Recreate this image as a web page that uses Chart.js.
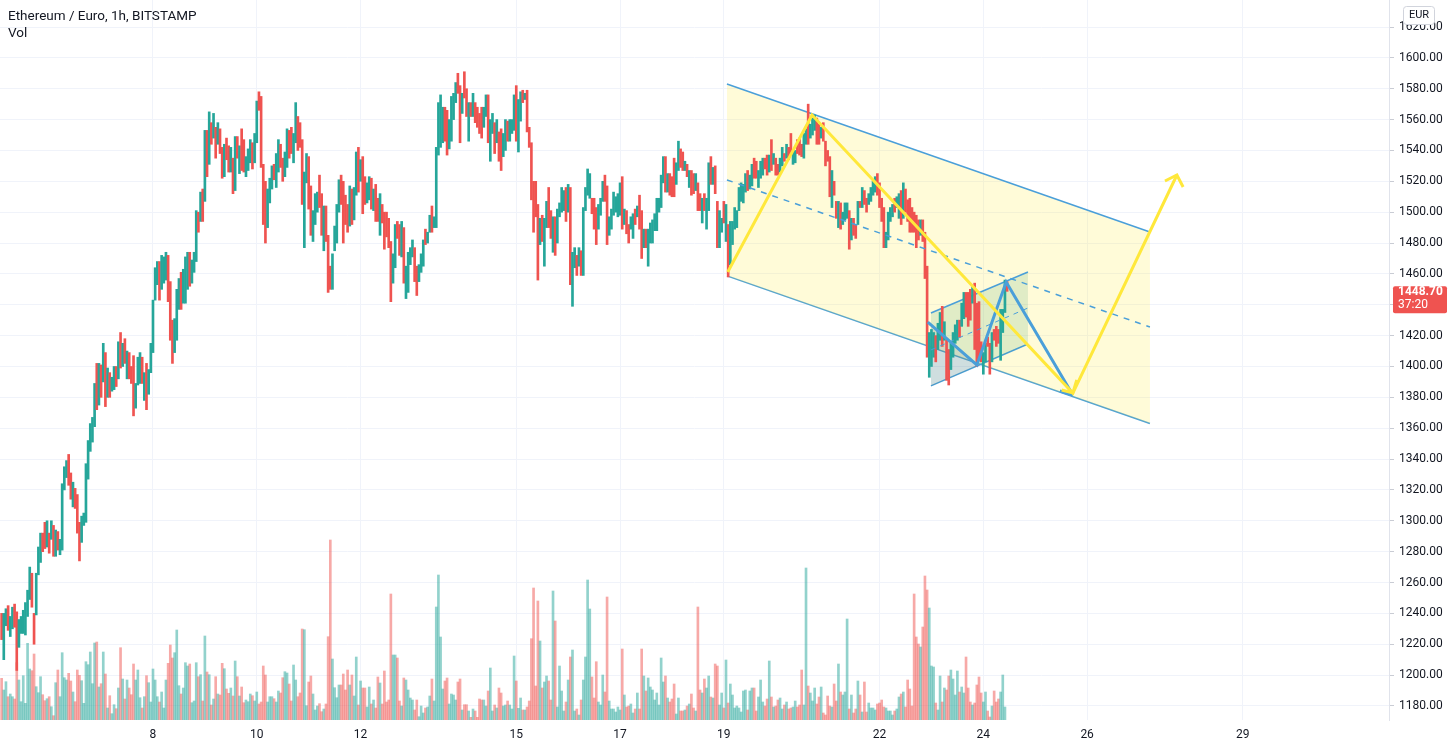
<!DOCTYPE html>
<html>
<head>
<meta charset="utf-8">
<script src="https://cdn.jsdelivr.net/npm/chart.js@4.4.0/dist/chart.umd.min.js"></script>
<style>
  html, body { margin: 0; padding: 0; background: #fff; }
  #wrap { position: relative; width: 1451px; height: 748px; }
</style>
</head>
<body>
<div id="wrap"><canvas id="ethChart" width="1451" height="748"></canvas></div>
<script>
// ETH/EUR hourly candles, first bar at day 5 02:00, one bar per hour
const firstBarDay = 5;
const firstBarHour = 2;

const opens = [
  1240,1210,1232,1245,1225,1230,1246,1241,1218,1227,
  1227,1226,1238,1249,1266,1240,1239,1265,1273,1292,
  1299,1283,1292,1288,1297,1277,1293,1278,1281,1320,
  1328,1343,1331,1309,1321,1317,1299,1286,1297,1299,
  1327,1345,1351,1361,1402,1375,1401,1390,1409,1380,
  1396,1384,1385,1400,1392,1422,1400,1418,1392,1409,
  1400,1407,1373,1388,1389,1406,1378,1402,1382,1396,
  1409,1443,1453,1468,1450,1454,1456,1472,1455,1430,
  1409,1417,1437,1461,1441,1441,1450,1474,1454,1461,
  1468,1500,1494,1515,1507,1553,1531,1558,1548,1555,
  1544,1554,1542,1523,1548,1543,1526,1535,1514,1549,
  1525,1554,1547,1523,1527,1532,1545,1532,1545,1578,
  1575,1531,1520,1490,1506,1515,1531,1516,1526,1544,
  1535,1523,1529,1553,1555,1532,1545,1562,1558,1547,
  1477,1519,1536,1517,1481,1492,1500,1524,1512,1475,
  1504,1485,1465,1450,1475,1480,1500,1524,1520,1511,
  1505,1491,1515,1495,1511,1542,1520,1536,1523,1506,
  1508,1522,1501,1518,1509,1485,1505,1500,1500,1496,
  1481,1454,1464,1494,1492,1471,1490,1444,1448,1466,
  1471,1477,1465,1455,1461,1465,1489,1480,1487,1504,
  1490,1490,1537,1542,1545,1568,1566,1541,1546,1560,
  1571,1590,1582,1564,1591,1580,1546,1571,1562,1571,
  1568,1564,1568,1555,1562,1576,1533,1551,1558,1545,
  1552,1554,1536,1540,1559,1546,1551,1553,1582,1539,
  1559,1579,1573,1579,1555,1545,1520,1520,1505,1479,
  1498,1465,1490,1516,1501,1474,1497,1480,1497,1500,
  1501,1516,1500,1516,1439,1464,1472,1465,1475,1459,
  1501,1511,1509,1509,1509,1503,1489,1498,1507,1524,
  1517,1485,1489,1498,1500,1497,1498,1523,1492,1501,
  1492,1489,1483,1502,1497,1511,1501,1477,1489,1465,
  1480,1480,1488,1488,1500,1503,1519,1536,1513,1525,
  1523,1535,1518,1527,1541,1539,1527,1531,1516,1527,
  1525,1514,1519,1512,1493,1512,1489,1501,1536,1518,
  1530,1507,1477,1487,1507,1481,1492,1466,1479,1489,
  1490,
  1501,1507,1506,1513,1527,1515,1517,1535,1533,1516,1522,1524,1535,
  1537,1526,1547,1531,1535,1531,1526,1530,1538,1535,1542,1551,1531,1532,
  1547,1548,1544,1535,1544,1570,1548,1550,1553,1561,1557,1548,
  1558,1546,1540,1536,1503,1520,1507,1490,1506,1492,
  1495,1496,
  1501,1482,1496,1492,1492,1507,1503,1514,1509,1505,1507,1511,
  1513,1525,1519,1509,1503,1477,1482,1494,1497,1509,1503,1496,
  1514,1496,1515,1508,1509,1503,1500,1498,1495,1485,1495,
  1487,1465,1393,1400,1406,1420,1411,1417,1439,1417,1417,
  1411,1398,1406,1415,1417,1430,1426,1431,1448,1448,1450,1441,
  1454,1441,1442,1416,1395,1403,1419,1415,1403,1424,1426,1424,
  1404,1422,1435,1455
];

const closes = [
  1223,1240,1243,1229,1238,1244,1231,1203,1236,1238,
  1242,1247,1255,1270,1244,1220,1266,1283,1292,1280,
  1282,1300,1279,1300,1277,1294,1281,1288,1324,1335,
  1339,1323,1314,1325,1308,1292,1274,1303,1305,1337,
  1352,1363,1367,1389,1372,1402,1380,1415,1374,1399,
  1380,1393,1400,1387,1416,1399,1415,1402,1410,1392,
  1389,1368,1389,1406,1409,1389,1396,1372,1398,1415,
  1443,1464,1468,1443,1472,1471,1474,1442,1417,1402,
  1431,1450,1457,1437,1463,1471,1474,1452,1469,1474,
  1501,1487,1513,1494,1553,1523,1565,1544,1564,1535,
  1558,1538,1522,1544,1534,1526,1542,1512,1549,1535,
  1543,1527,1526,1536,1541,1547,1528,1551,1572,1566,
  1529,1492,1480,1515,1522,1530,1521,1538,1547,1529,
  1520,1539,1554,1535,1538,1551,1571,1540,1542,1505,
  1526,1538,1502,1485,1501,1512,1513,1503,1485,1504,
  1481,1448,1450,1473,1491,1505,1521,1505,1480,1492,
  1487,1517,1492,1516,1539,1513,1534,1499,1505,1519,
  1523,1502,1515,1494,1494,1512,1493,1476,1484,1477,
  1442,1473,1492,1483,1472,1494,1454,1465,1474,1477,
  1482,1455,1446,1466,1473,1482,1479,1487,1498,1487,
  1497,1542,1571,1576,1568,1546,1537,1560,1575,1577,
  1584,1577,1545,1577,1574,1562,1571,1562,1577,1558,
  1555,1551,1548,1568,1576,1545,1560,1564,1538,1560,
  1533,1527,1551,1560,1546,1560,1560,1576,1546,1573,
  1578,1571,1577,1552,1542,1508,1487,1497,1456,1496,
  1481,1496,1507,1490,1483,1497,1472,1502,1506,1516,
  1514,1494,1518,1453,1474,1477,1459,1477,1459,1503,
  1516,1528,1525,1499,1489,1479,1505,1509,1520,1507,
  1479,1497,1502,1513,1510,1512,1519,1489,1502,1486,
  1480,1497,1499,1492,1504,1489,1470,1489,1477,1489,
  1493,1495,1499,1509,1509,1524,1536,1513,1525,1511,
  1510,1510,1532,1546,1529,1527,1533,1523,1527,1511,
  1512,1525,1501,1501,1509,1501,1509,1532,1518,1529,
  1512,1477,1501,1496,1493,1505,1458,1494,1494,1503,
  1501,
  1516,1519,1518,1525,1514,1524,1531,1522,1522,1527,1533,1535,1528,
  1524,1537,1527,1538,1524,1524,1535,1542,1533,1544,1534,1538,1539,1540,
  1538,1537,1536,1551,1554,1544,1557,1561,1563,1544,1544,1555,
  1546,1530,1533,1510,1527,1511,1496,1507,1489,1500,
  1506,1506,
  1476,1496,1485,1483,1507,1503,1516,1505,1500,1512,1516,1520,
  1523,1511,1503,1494,1477,1487,1500,1503,1505,1500,1510,1512,
  1492,1519,1500,1494,1487,1487,1487,1477,1482,1495,1481,
  1457,1406,1422,1424,1422,1403,1428,1435,1413,1429,1391,
  1388,1415,1422,1427,1430,1419,1441,1448,1432,1426,1430,1452,
  1411,1400,1406,1403,1409,1415,1413,1395,1422,1417,1413,1415,
  1437,1437,1456,1448.7
];

const volumes = [
  417,300,383,233,260,233,210,573,400,183,
  443,167,767,510,493,660,333,273,433,253,
  193,213,233,133,43,373,500,233,673,423,
  400,467,390,280,183,500,447,393,167,583,
  553,680,363,770,780,330,363,680,460,120,
  243,63,153,113,320,723,410,210,400,320,
  253,560,400,500,223,120,233,443,373,180,
  510,400,233,180,280,120,400,567,750,620,
  673,900,343,260,320,573,540,560,173,190,
  573,433,453,190,840,480,453,150,210,433,
  260,250,567,513,310,267,320,240,590,433,
  240,330,173,200,183,260,243,190,280,160,
  180,540,450,180,233,233,213,180,290,270,
  423,483,470,360,190,550,400,233,270,910,
  903,143,380,440,260,100,140,163,83,110,
  160,833,1800,610,323,223,350,350,460,300,
  500,350,450,240,630,150,390,320,320,130,
  330,160,200,120,430,370,160,490,180,200,
  1260,650,650,620,190,140,420,400,300,220,
  200,100,200,33,140,70,120,130,240,410,
  190,1130,1450,830,310,390,420,160,260,250,
  200,380,410,100,153,153,90,27,110,90,
  27,210,200,200,140,290,520,90,150,120,
  320,270,140,150,190,
  150,110,640,390,117,220,100,100,130,190,
  813,1320,340,1190,790,320,380,440,390,200,
  1290,990,130,540,290,90,180,400,630,700,
  90,110,50,200,400,630,1400,1110,430,220,
  583,180,150,450,280,1230,190,110,110,80,
  130,100,710,250,130,140,160,70,110,270,
  110,710,440,290,420,330,300,200,270,150,
  620,380,440,220,180,210,360,60,220,90,
  90,100,140,160,260,120,90,1130,300,270,
  410,320,440,230,220,560,540,150,270,120,
  600,170,360,250,120,140,120,80,290,300,
  100,290,320,320,90,230,400,180,140,210,
  590,230,130,140,200,220,110,150,180,110,
  120,130,190,130,150,500,150,1520,340,270,
  190,320,160,230,330,70,50,240,140,130,
  360,190,560,280,250,280,1010,110,250,70,
  110,390,250,80,380,80,170,120,120,100,
  160,170,200,130,120,90,90,50,90,110,
  230,260,280,130,400,310,140,1260,830,760,
  730,930,1440,1300,1120,540,530,170,100,440,
  180,320,300,440,500,410,250,490,280,330,
  270,630,320,180,150,170,350,430,270,180,
  280,90,30,140,290,180,210,280,450,130
];

// axis ticks
const dayTicks = [8, 10, 12, 15, 17, 19, 22, 24, 26, 29];
const priceTicks = [1180,1200,1220,1240,1260,1280,1300,1320,1340,1360,1380,1400,
                    1420,1440,1460,1480,1500,1520,1540,1560,1580,1600,1620];

// horizontal levels
const periodHigh = 1590.8;
const periodLow = 1209.2;
const lastPrice = 1448.7;

// drawings, [day, price]
const channelTop    = [[19.06, 1583.1], [27.21, 1487.2]];
const channelBottom = [[19.06, 1458.7], [27.21, 1363.1]];
const channelMid    = [[19.06, 1520.9], [27.21, 1425.6]];
const yellowPath    = [[19.075, 1461.2], [20.70, 1563.0], [25.725, 1382.8], [27.73, 1524.1]];
const yellowHeadTop = [[27.50, 1520.2], [27.73, 1524.1], [27.85, 1516.3]];
const yellowHeadLow = [[25.51, 1384.8], [25.725, 1382.8], [25.80, 1391.3]];
const bluePath      = [[22.93, 1428.8], [23.875, 1401.0], [24.44, 1454.8], [25.725, 1381.5]];
const blueHead      = [[25.475, 1384.1], [25.725, 1381.5]];
const smallTop      = [[22.99, 1434.7], [24.86, 1461.2]];
const smallBottom   = [[22.99, 1387.4], [24.86, 1414.6]];
const smallMid      = [[22.99, 1410.7], [24.86, 1437.9]];
const triUpper      = [[22.99, 1427.2], [23.875, 1401.0]];
const triLower      = [[22.99, 1387.4], [23.875, 1400.3]];

const UP = '#26a69a';
const DOWN = '#ef5350';
const BLUE = '#4a9fd9';
const YELLOW = '#ffe83b';
const FONT = 'Roboto, "Liberation Sans", sans-serif';

const barDay = i => firstBarDay + (i + firstBarHour) / 24;
const pts = arr => arr.map(p => ({ x: p[0], y: p[1] }));
const level = v => [{ x: 5.0, y: v }, { x: 32, y: v }];

const candleData = opens.map((o, i) => ({ x: barDay(i), y: [Math.min(o, closes[i]), Math.max(o, closes[i])] }));
const candleColors = opens.map((o, i) => closes[i] >= o ? UP : DOWN);
const volumeData = volumes.map((v, i) => ({ x: barDay(i), y: v }));
const volumeColors = volumes.map((v, i) => closes[i] >= opens[i] ? 'rgba(38,166,154,0.5)' : 'rgba(239,83,80,0.5)');

function lineSet(data, color, width, order, extra) {
  return Object.assign({
    type: 'line', data: pts(data), borderColor: color, borderWidth: width,
    pointRadius: 0, tension: 0, fill: false, order: order, yAxisID: 'y'
  }, extra || {});
}

// title, price tag, currency box
const overlay = {
  id: 'overlay',
  afterDraw(chart) {
    const ctx = chart.ctx;
    const py = chart.scales.y.getPixelForValue(lastPrice);
    ctx.save();
    ctx.fillStyle = '#131722';
    ctx.textBaseline = 'middle';
    ctx.font = '13.5px ' + FONT;
    ctx.fillText('Ethereum / Euro, 1h, BITSTAMP', 8, 17);
    ctx.fillText('Vol', 8, 34);

    ctx.fillStyle = '#ffffff';
    ctx.strokeStyle = '#d1d4dc';
    ctx.lineWidth = 1;
    ctx.beginPath();
    ctx.roundRect(1403.5, 6.5, 31, 18, 3);
    ctx.fill();
    ctx.stroke();
    ctx.fillStyle = '#131722';
    ctx.font = '11px ' + FONT;
    ctx.textAlign = 'center';
    ctx.fillText('EUR', 1419, 15.5);

    ctx.fillStyle = DOWN;
    ctx.beginPath();
    ctx.roundRect(1393, py - 5, 54, 27, 2);
    ctx.fill();
    ctx.fillStyle = '#ffffff';
    ctx.textAlign = 'left';
    ctx.font = 'bold 12px ' + FONT;
    ctx.fillText(lastPrice.toFixed(2), 1398, py + 1);
    ctx.font = '12px ' + FONT;
    ctx.fillText('37:20', 1398, py + 14);
    ctx.restore();
  }
};

new Chart(document.getElementById('ethChart'), {
  type: 'bar',
  data: {
    datasets: [
      lineSet(channelTop, BLUE, 1.5, 20, { fill: '+1', backgroundColor: 'rgba(255,235,59,0.2)' }),
      lineSet(channelBottom, BLUE, 1.5, 20),
      lineSet(smallTop, BLUE, 1.5, 19, { fill: '+1', backgroundColor: 'rgba(70,160,110,0.17)' }),
      lineSet(smallBottom, BLUE, 1.5, 19),
      lineSet(triUpper, 'transparent', 0, 18, { fill: '+1', backgroundColor: 'rgba(100,110,170,0.14)' }),
      lineSet(triLower, 'transparent', 0, 18),
      {
        type: 'bar', label: 'Vol', data: volumeData, yAxisID: 'yv',
        backgroundColor: volumeColors, barThickness: 2, grouped: false, order: 15
      },
      lineSet(level(periodHigh), '#787b86', 1, 12, { borderDash: [2, 3] }),
      lineSet(level(periodLow), '#787b86', 1, 12, { borderDash: [2, 3] }),
      lineSet(level(lastPrice), DOWN, 1, 12, { borderDash: [2, 3] }),
      {
        type: 'bar', label: 'ETHEUR', data: candleData, yAxisID: 'y',
        backgroundColor: candleColors, barThickness: 2, grouped: false, order: 10
      },
      lineSet(channelMid, BLUE, 1.5, 5, { borderDash: [6, 6] }),
      lineSet(smallMid, BLUE, 1, 5, { borderDash: [5, 5] }),
      lineSet(bluePath, BLUE, 3, 3),
      lineSet(blueHead, BLUE, 3, 3),
      lineSet(yellowPath, YELLOW, 3, 2),
      lineSet(yellowHeadTop, YELLOW, 3, 2),
      lineSet(yellowHeadLow, YELLOW, 3, 2)
    ]
  },
  options: {
    responsive: false,
    devicePixelRatio: 1,
    animation: false,
    events: [],
    layout: { padding: 0 },
    plugins: {
      legend: { display: false },
      tooltip: { enabled: false }
    },
    scales: {
      x: {
        type: 'linear',
        min: 5.052,
        max: 31.817,
        offset: false,
        afterBuildTicks: s => { s.ticks = dayTicks.map(v => ({ value: v })); },
        afterFit: s => { s.height = 28; s.paddingLeft = 0; s.paddingRight = 0; },
        grid: { color: '#f0f3fa', drawTicks: false, offset: false },
        border: { display: false },
        ticks: {
          color: '#131722', padding: 8, maxRotation: 0, autoSkip: false,
          font: { size: 12, family: FONT },
          callback: v => String(v)
        }
      },
      y: {
        position: 'right',
        min: 1170.9,
        max: 1637.5,
        afterBuildTicks: s => { s.ticks = priceTicks.map(v => ({ value: v })); },
        afterFit: s => { s.width = 62; s.paddingTop = 0; s.paddingBottom = 0; },
        grid: { color: '#f0f3fa', tickLength: 5, tickColor: '#c9ccd4' },
        border: { display: true, color: '#e0e3eb' },
        ticks: {
          color: '#131722', padding: 5,
          font: { size: 12, family: FONT },
          callback: v => v.toFixed(2)
        }
      },
      yv: { display: false, min: 0, max: 7200 }
    }
  },
  plugins: [overlay]
});
</script>
</body>
</html>
